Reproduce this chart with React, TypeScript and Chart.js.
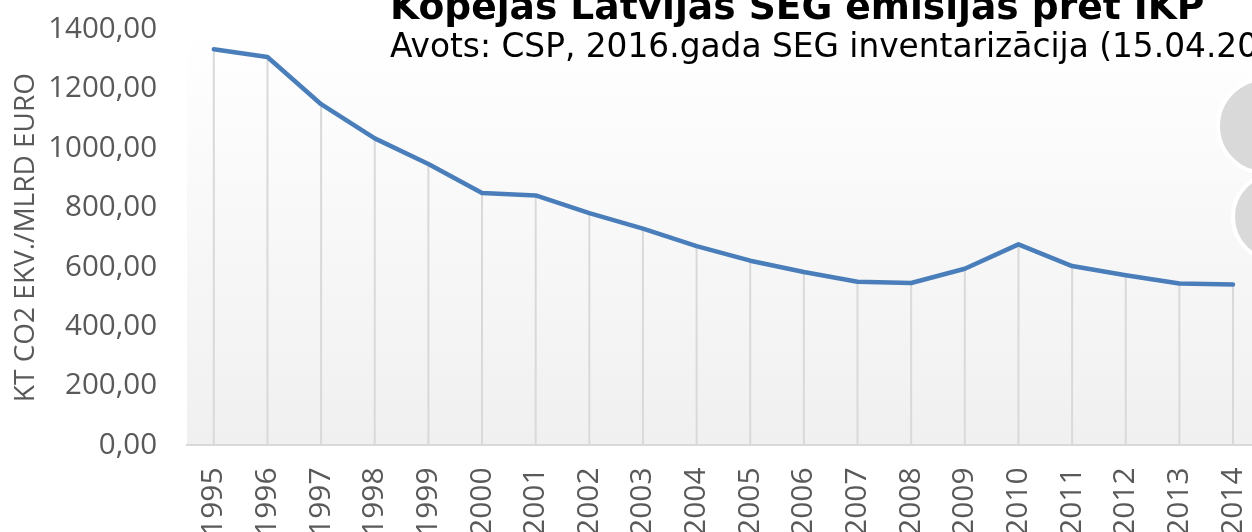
import React, { useEffect, useRef } from "react";
import { Chart, registerables } from "chart.js";

Chart.register(...registerables);

const years = [
  "1995", "1996", "1997", "1998", "1999", "2000", "2001", "2002", "2003", "2004",
  "2005", "2006", "2007", "2008", "2009", "2010", "2011", "2012", "2013", "2014",
];
const emissionsPerGdp = [
  1334, 1308, 1149, 1034, 948, 850, 842, 782, 730, 671,
  622, 584, 551, 547, 595, 677, 604, 573, 545, 542,
];
const titleText = "Kopējās Latvijas SEG emisijas pret IKP";
const subtitleText = "Avots: CSP, 2016.gada SEG inventarizācija (15.04.2016)";
const yAxisTitle = "KT CO2 EKV./MLRD EURO";

const SHIFT = 10; // canvas is shifted up by this many pixels

const plotBackground = {
  id: "plotBackground",
  beforeDraw(chart: any) {
    const { ctx, chartArea } = chart;
    const g = ctx.createLinearGradient(0, chartArea.top, 0, chartArea.bottom);
    g.addColorStop(0, "#ffffff");
    g.addColorStop(1, "#f0f0f0");
    ctx.save();
    ctx.fillStyle = g;
    ctx.fillRect(chartArea.left, chartArea.top, chartArea.right - chartArea.left, chartArea.bottom - chartArea.top);
    ctx.restore();
  },
};

const dropLines = {
  id: "dropLines",
  beforeDatasetsDraw(chart: any) {
    const { ctx, chartArea } = chart;
    const meta = chart.getDatasetMeta(0);
    ctx.save();
    ctx.strokeStyle = "#d9d9d9";
    ctx.lineWidth = 2;
    meta.data.forEach((p: any) => {
      ctx.beginPath();
      ctx.moveTo(p.x, p.y);
      ctx.lineTo(p.x, chartArea.bottom);
      ctx.stroke();
    });
    ctx.restore();
  },
};

const overlay = {
  id: "overlay",
  afterDraw(chart: any) {
    const { ctx } = chart;
    ctx.save();
    const circles = [
      { x: 1265, y: 126 + SHIFT, r: 47 },
      { x: 1277, y: 217 + SHIFT, r: 44 },
    ];
    circles.forEach((c) => {
      ctx.beginPath();
      ctx.arc(c.x, c.y, c.r, 0, Math.PI * 2);
      ctx.fillStyle = "#d9d9d9";
      ctx.fill();
      ctx.lineWidth = 4;
      ctx.strokeStyle = "#ffffff";
      ctx.stroke();
    });
    ctx.fillStyle = "#000000";
    ctx.textBaseline = "alphabetic";
    ctx.textAlign = "left";
    ctx.font = "bold 37.6px 'DejaVu Sans'";
    ctx.fillText(titleText, 390, 19 + SHIFT);
    ctx.font = "32.8px 'DejaVu Sans'";
    ctx.fillText(subtitleText, 390, 57 + SHIFT);
    ctx.restore();
  },
};

export default function App() {
  const ref = useRef<HTMLCanvasElement>(null);
  useEffect(() => {
    if (!ref.current) return;
    const chart = new Chart(ref.current, {
      type: "line",
      data: {
        labels: years,
        datasets: [
          {
            data: emissionsPerGdp,
            borderColor: "#4a7ebb",
            borderWidth: 4.5,
            pointRadius: 0,
            tension: 0,
            borderJoinStyle: "round",
            borderCapStyle: "round",
          },
        ],
      },
      options: {
        responsive: false,
        animation: false,
        devicePixelRatio: 1,
        layout: { padding: { top: 0, left: 9, right: 0, bottom: 0 } },
        plugins: { legend: { display: false }, tooltip: { enabled: false }, title: { display: false } },
        scales: {
          x: {
            offset: true,
            grid: { display: false },
            border: { display: true, color: "#d9d9d9", width: 2 },
            ticks: {
              color: "#595959",
              font: { family: "'Open Sans'", size: 30 },
              minRotation: 90,
              maxRotation: 90,
              padding: 14,
              autoSkip: false,
            },
          },
          y: {
            min: 0,
            max: 1400,
            grid: { display: false },
            border: { display: false },
            afterFit: (scale: any) => {
              scale.width = 178;
            },
            ticks: {
              stepSize: 200,
              color: "#595959",
              font: { family: "'Open Sans'", size: 29.5 },
              padding: 22,
              callback: (v: any) => Number(v).toFixed(2).replace(".", ","),
            },
            title: {
              display: true,
              text: yAxisTitle,
              color: "#595959",
              font: { family: "'Open Sans'", size: 28 },
              padding: { top: 0, bottom: 8 },
            },
          },
        },
      },
      plugins: [plotBackground, dropLines, overlay],
    });
    return () => chart.destroy();
  }, []);
  return (
    <div style={{ position: "fixed", left: 0, top: 0, width: 1252, height: 532, overflow: "hidden", background: "#fff" }}>
      <canvas ref={ref} width={1283} height={560} style={{ display: "block", marginTop: -SHIFT }} />
    </div>
  );
}
